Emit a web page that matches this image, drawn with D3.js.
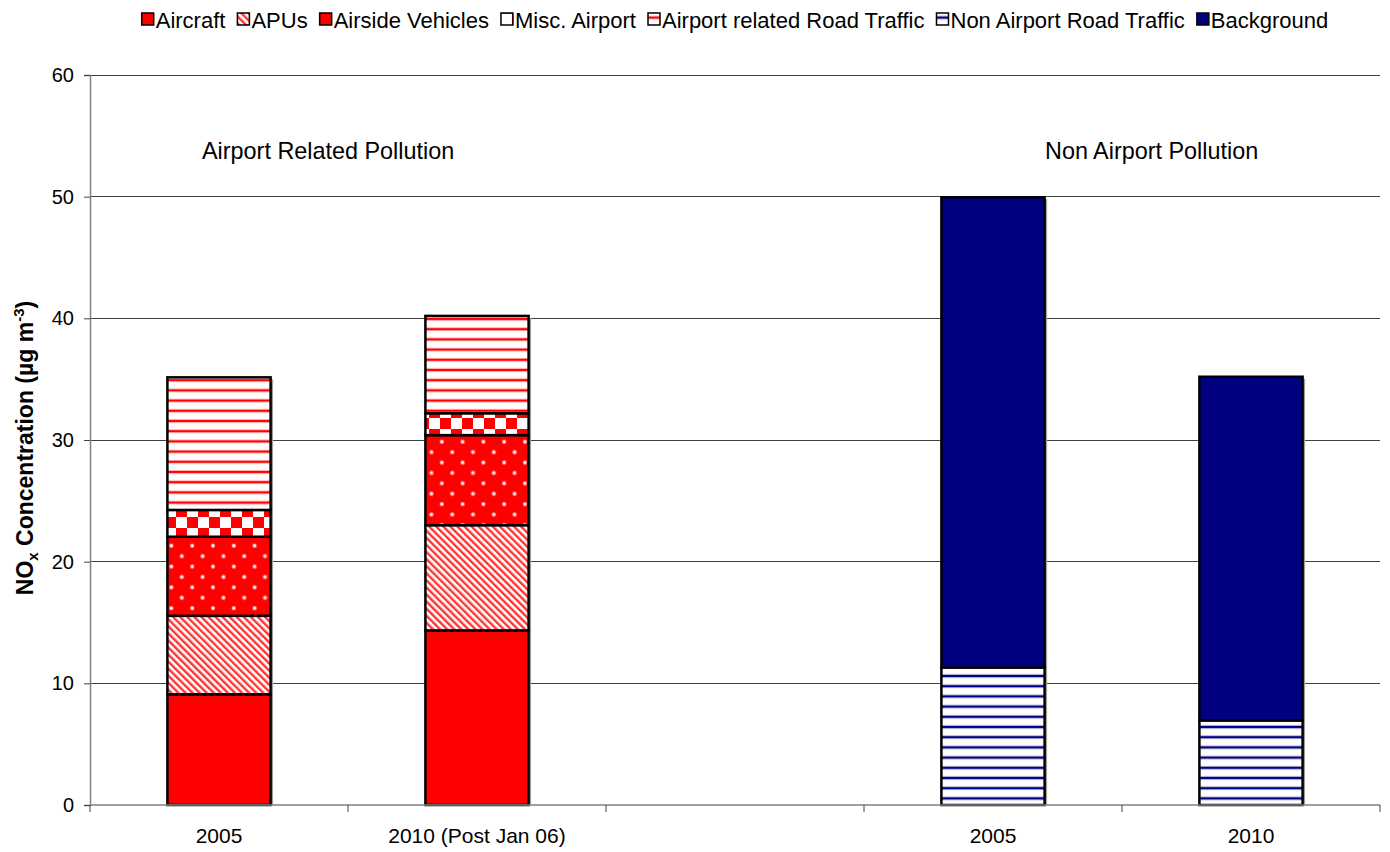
<!DOCTYPE html>
<html>
<head>
<meta charset="utf-8">
<script src="https://cdn.jsdelivr.net/npm/d3@7"></script>
<style>
  html, body { margin: 0; padding: 0; background: #fff; }
  svg { display: block; font-family: "Liberation Sans", Arial, sans-serif; }
</style>
</head>
<body>
<svg id="chart" width="1390" height="852"></svg>
<script>
// Category axis: airport-related pair, an empty slot, then the non-airport pair
const categoryLabels = ["2005", "2010 (Post Jan 06)", "", "2005", "2010"];

const seriesNames = ["Aircraft", "APUs", "Airside Vehicles", "Misc. Airport",
  "Airport related Road Traffic", "Non Airport Road Traffic", "Background"];

// NOx concentration contributions (µg m-3) per category
const aircraft       = [9.1, 14.35, 0, 0, 0];
const apus           = [6.45, 8.65, 0, 0, 0];
const airsideVeh     = [6.5, 7.4, 0, 0, 0];
const miscAirport    = [2.2, 1.8, 0, 0, 0];
const airportRoad    = [10.9, 8.0, 0, 0, 0];
const nonAirportRoad = [0, 0, 0, 11.3, 6.95];
const background     = [0, 0, 0, 38.65, 28.25];

const yTicks = [0, 10, 20, 30, 40, 50, 60];

const seriesValues = [aircraft, apus, airsideVeh, miscAirport, airportRoad, nonAirportRoad, background];
const fills = ["url(#p-aircraft)", "url(#p-apus)", "url(#p-airside)", "url(#p-misc)",
  "url(#p-aroad)", "url(#p-nroad)", "url(#p-bg)"];

const svg = d3.select("#chart");
const margin = { left: 90, right: 10, top: 75, bottom: 47 };
const W = 1390, H = 852;

// ---------- patterns ----------
const defs = svg.append("defs");
const RED = "#ff0000", NAVY = "#000080";

let p = defs.append("pattern").attr("id", "p-aircraft").attr("patternUnits", "userSpaceOnUse")
  .attr("width", 10).attr("height", 10);
p.append("rect").attr("width", 10).attr("height", 10).attr("fill", RED);

p = defs.append("pattern").attr("id", "p-bg").attr("patternUnits", "userSpaceOnUse")
  .attr("width", 10).attr("height", 10);
p.append("rect").attr("width", 10).attr("height", 10).attr("fill", NAVY);

// diagonal red hatching
p = defs.append("pattern").attr("id", "p-apus").attr("patternUnits", "userSpaceOnUse")
  .attr("width", 5).attr("height", 5).attr("patternTransform", "rotate(-45)");
p.append("rect").attr("width", 5).attr("height", 5).attr("fill", "#fff");
p.append("rect").attr("x", 0).attr("width", 2.4).attr("height", 5).attr("fill", RED).attr("opacity", 0.8);

// red with staggered white dots
p = defs.append("pattern").attr("id", "p-airside").attr("patternUnits", "userSpaceOnUse")
  .attr("width", 20.8).attr("height", 20.8);
p.append("rect").attr("width", 20.8).attr("height", 20.8).attr("fill", RED);
[[5, 5], [15.4, 15.4]].forEach(([cx, cy]) => {
  p.append("circle").attr("cx", cx).attr("cy", cy).attr("r", 2.2).attr("fill", "#ff9a9a");
  p.append("circle").attr("cx", cx).attr("cy", cy).attr("r", 1.2).attr("fill", "#fff");
});

// red/white checkerboard
p = defs.append("pattern").attr("id", "p-misc").attr("patternUnits", "userSpaceOnUse")
  .attr("width", 22).attr("height", 22);
p.append("rect").attr("width", 22).attr("height", 22).attr("fill", "#fff");
p.append("rect").attr("x", 0).attr("y", 0).attr("width", 11).attr("height", 11).attr("fill", RED);
p.append("rect").attr("x", 11).attr("y", 11).attr("width", 11).attr("height", 11).attr("fill", RED);

// horizontal stripes
function stripes(id, color, soft) {
  const q = defs.append("pattern").attr("id", id).attr("patternUnits", "userSpaceOnUse")
    .attr("width", 10).attr("height", 10.2);
  q.append("rect").attr("width", 10).attr("height", 10.2).attr("fill", "#fff");
  q.append("rect").attr("y", 0.8).attr("width", 10).attr("height", 4).attr("fill", soft);
  q.append("rect").attr("y", 1.8).attr("width", 10).attr("height", 2).attr("fill", color);
}
stripes("p-aroad", RED, "#ffb3b3");
stripes("p-nroad", NAVY, "#b3b3d9");

// ---------- scales ----------
const x = d3.scaleBand()
  .domain(d3.range(categoryLabels.length))
  .range([margin.left, W - margin.right])
  .paddingInner(0.6)
  .paddingOuter(0.3);

const y = d3.scaleLinear().domain([0, 60]).range([H - margin.bottom, margin.top]);

// ---------- gridlines ----------
svg.append("g").selectAll("line").data(yTicks.filter(t => t > 0)).join("line")
  .attr("x1", margin.left).attr("x2", W - margin.right)
  .attr("y1", d => y(d)).attr("y2", d => y(d))
  .attr("stroke", "#404040").attr("stroke-width", 1).attr("shape-rendering", "crispEdges");

// ---------- stacked bars ----------
const rows = categoryLabels.map((_, i) => {
  const r = { idx: i };
  seriesNames.forEach((s, k) => { r[s] = seriesValues[k][i]; });
  return r;
});
const stacked = d3.stack().keys(seriesNames)(rows);

// faint drop shadow on the right edge of each bar
const totals = rows.map(r => d3.sum(seriesNames, s => r[s]));
svg.append("g").selectAll("rect").data(rows.filter((r, i) => totals[i] > 0)).join("rect")
  .attr("x", r => x(r.idx) + 2.5)
  .attr("y", r => y(totals[r.idx]) + 2)
  .attr("width", x.bandwidth())
  .attr("height", r => y(0) - y(totals[r.idx]) - 2)
  .attr("fill", "#a0a0a0");

const barG = svg.append("g");
stacked.forEach((layer, k) => {
  barG.append("g").selectAll("rect")
    .data(layer.filter(d => d[1] - d[0] > 0))
    .join("rect")
    .attr("x", d => x(d.data.idx))
    .attr("y", d => y(d[1]))
    .attr("width", x.bandwidth())
    .attr("height", d => y(d[0]) - y(d[1]))
    .attr("fill", fills[k])
    .attr("stroke", "#000")
    .attr("stroke-width", 2.5);
});

// ---------- axes ----------
const yAxis = d3.axisLeft(y).tickValues(yTicks).tickSize(6).tickPadding(10);
const yg = svg.append("g").attr("transform", `translate(${margin.left},0)`).call(yAxis);
yg.select(".domain").attr("stroke", "#808080").attr("stroke-width", 1.5);
yg.selectAll(".tick line").attr("stroke", "#404040");
yg.selectAll(".tick text").attr("font-size", 20).attr("fill", "#000")
  .attr("font-family", "'Liberation Sans', Arial, sans-serif");

// x axis line with ticks between categories
const step = x.step();
const boundaries = d3.range(categoryLabels.length + 1).map(i =>
  i < categoryLabels.length ? x(i) - (step - x.bandwidth()) / 2 : x(i - 1) + x.bandwidth() + (step - x.bandwidth()) / 2);
const xg = svg.append("g");
xg.append("line").attr("x1", margin.left).attr("x2", W - margin.right)
  .attr("y1", y(0)).attr("y2", y(0)).attr("stroke", "#808080").attr("stroke-width", 1.5);
xg.selectAll("line.tk").data(boundaries).join("line").attr("class", "tk")
  .attr("x1", d => d).attr("x2", d => d)
  .attr("y1", y(0)).attr("y2", y(0) + 7)
  .attr("stroke", "#404040").attr("stroke-width", 1);
xg.selectAll("text").data(categoryLabels).join("text")
  .attr("x", (d, i) => x(i) + x.bandwidth() / 2)
  .attr("y", y(0) + 38)
  .attr("text-anchor", "middle")
  .attr("font-size", 21)
  .text(d => d);

// ---------- y-axis title ----------
const yt = svg.append("text")
  .attr("transform", `translate(33,448) rotate(-90)`)
  .attr("text-anchor", "middle")
  .attr("font-size", 23).attr("font-weight", "bold");
yt.append("tspan").text("NO");
yt.append("tspan").attr("font-size", 15).attr("dy", 5).text("x");
yt.append("tspan").attr("dy", -5).text(" Concentration (µg m");
yt.append("tspan").attr("font-size", 15).attr("dy", -9).text("-3");
yt.append("tspan").attr("dy", 9).text(")");

// ---------- group annotations ----------
svg.append("text").attr("x", x(0) + 34.6).attr("y", y(53.1))
  .attr("font-size", 23.4).text("Airport Related Pollution");
svg.append("text").attr("x", x(3) + 103.6).attr("y", y(53.1))
  .attr("font-size", 23.4).text("Non Airport Pollution");

// ---------- legend ----------
const legend = svg.append("g");
let cursor = 0;
seriesNames.forEach((name, k) => {
  const g = legend.append("g").attr("transform", `translate(${cursor},0)`);
  g.append("rect").attr("x", 0).attr("y", -12).attr("width", 12).attr("height", 12)
    .attr("fill", fills[k]).attr("stroke", "#000").attr("stroke-width", 1.5);
  const t = g.append("text").attr("x", 14).attr("y", 0).attr("dy", "0.12em")
    .attr("font-size", 22).text(name);
  const w = t.node().getComputedTextLength();
  cursor += 14 + w + 12;
});
const legendWidth = cursor - 12;
const plotCenter = (margin.left + W - margin.right) / 2;
legend.attr("transform", `translate(${plotCenter - legendWidth / 2},25)`);
</script>
</body>
</html>
